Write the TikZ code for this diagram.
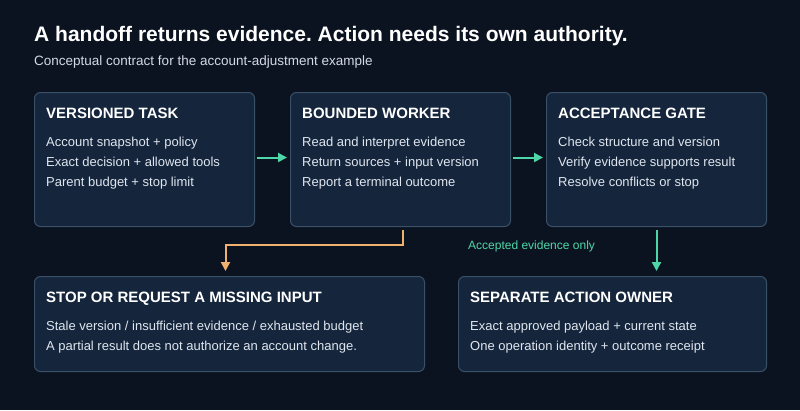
\documentclass[tikz,border=0pt]{standalone}
\usepackage{fontspec}
\setmainfont{Liberation Sans}
\frenchspacing
\usetikzlibrary{arrows.meta}
\definecolor{backdrop}{HTML}{0B1320}
\definecolor{cardfill}{HTML}{14253C}
\definecolor{cardline}{HTML}{3A5068}
\definecolor{bodytext}{HTML}{DFE6EF}
\definecolor{subtext}{HTML}{D3DAE3}
\definecolor{accept}{HTML}{4FD6A8}
\definecolor{halt}{HTML}{F0B06E}

\begin{document}
\begin{tikzpicture}[x=1pt, y=-1pt,
    card/.style={draw=cardline, fill=cardfill, line width=1pt, rounded corners=6pt,
      anchor=north west, inner sep=0pt},
    cardhead/.style={anchor=base west, inner sep=0pt, text=white,
      font=\fontsize{15}{18}\selectfont\bfseries},
    cardbody/.style={anchor=base west, inner sep=0pt, align=left, text=bodytext,
      font=\fontsize{13}{20}\selectfont},
    flow/.style={draw=accept, line width=2pt, -{Triangle[length=9pt, width=9pt]}},
    fallback/.style={draw=halt, line width=2pt, -{Triangle[length=9pt, width=9pt]}}]

  % Background and page size
  \fill[backdrop] (0,0) rectangle (800,410);
  \useasboundingbox (0,0) rectangle (800,410);

  % Headline
  \node[anchor=base west, inner sep=0pt, text=white, font=\fontsize{21}{25}\selectfont\bfseries]
    (headline) at (34,41) {A handoff returns evidence. Action needs its own authority.};
  \node[anchor=base west, inner sep=0pt, text=subtext, font=\fontsize{13.5}{16}\selectfont]
    (subline) at (34,65) {Conceptual contract for the account-adjustment example};

  % Top row of cards
  \node[card, minimum width=220pt, minimum height=134pt] (task) at (34,92) {};
  \node[card, minimum width=220pt, minimum height=134pt] (worker) at (290,92) {};
  \node[card, minimum width=220pt, minimum height=134pt] (gate) at (546,92) {};

  % Bottom row of cards
  \node[card, minimum width=390pt, minimum height=95pt] (stop) at (34,276) {};
  \node[card, minimum width=308pt, minimum height=95pt] (owner) at (458,276) {};

  % Card titles
  \node[cardhead] (taskhead) at ([xshift=12pt, yshift=-26pt]task.north west) {VERSIONED TASK};
  \node[cardhead] (workerhead) at ([xshift=12pt, yshift=-26pt]worker.north west) {BOUNDED WORKER};
  \node[cardhead] (gatehead) at ([xshift=12pt, yshift=-26pt]gate.north west) {ACCEPTANCE GATE};
  \node[cardhead] (stophead) at ([xshift=12pt, yshift=-26pt]stop.north west) {STOP OR REQUEST A MISSING INPUT};
  \node[cardhead] (ownerhead) at ([xshift=12pt, yshift=-26pt]owner.north west) {SEPARATE ACTION OWNER};

  % Card contents (base sits on the last line)
  \node[cardbody] (taskbody) at ([xshift=12pt, yshift=-94.5pt]task.north west)
    {Account snapshot + policy\\Exact decision + allowed tools\\Parent budget + stop limit};
  \node[cardbody] (workerbody) at ([xshift=12pt, yshift=-94.5pt]worker.north west)
    {Read and interpret evidence\\Return sources + input version\\Report a terminal outcome};
  \node[cardbody] (gatebody) at ([xshift=12pt, yshift=-94.5pt]gate.north west)
    {Check structure and version\\Verify evidence supports result\\Resolve conflicts or stop};
  \node[cardbody] (stopbody) at ([xshift=12pt, yshift=-74.5pt]stop.north west)
    {Stale version / insufficient evidence / exhausted budget\\A partial result does not authorize an account change.};
  \node[cardbody] (ownerbody) at ([xshift=12pt, yshift=-74.5pt]owner.north west)
    {Exact approved payload + current state\\One operation identity + outcome receipt};

  % Handoffs along the top row
  \draw[flow] ([xshift=1.5pt, yshift=2pt]task.east) -- ([xshift=-3pt, yshift=2pt]worker.west);
  \draw[flow] ([xshift=1.5pt, yshift=2pt]worker.east) -- ([xshift=-3pt, yshift=2pt]gate.west);

  % Fallback path and accepted path
  \draw[fallback] ([xshift=2pt, yshift=-3pt]worker.south) -- ++(0,15)
    -| ([xshift=-4pt, yshift=5pt]stop.north);
  \draw[flow] ([yshift=-3pt]gate.south) -- ([yshift=5pt]gate.south |- owner.north);
  \node[anchor=base west, inner sep=0pt, text=accept, font=\fontsize{12}{14}\selectfont]
    (acceptlabel) at (468,249) {Accepted evidence only};
\end{tikzpicture}
\end{document}
